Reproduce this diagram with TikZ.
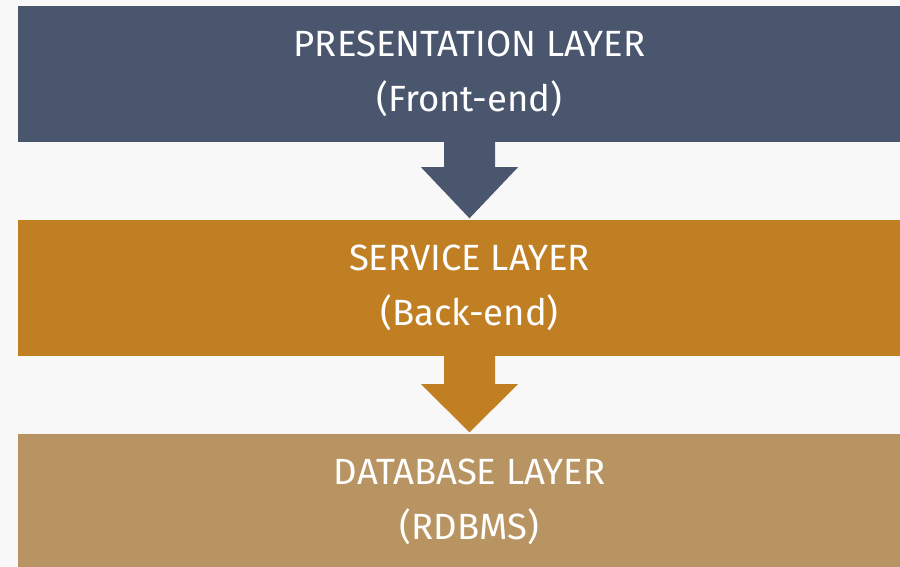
\documentclass[tikz,border=0pt]{standalone}
\usepackage{fontspec}
\setmainfont{Fira Sans}
\usetikzlibrary{calc}
\definecolor{bgc}{HTML}{F8F8F8}
\definecolor{slate}{HTML}{4A566E}
\definecolor{ochre}{HTML}{C17F24}
\definecolor{tan}{HTML}{B89462}
\tikzset{
  layer/.style={fill=#1, draw=none, minimum width=903pt, minimum height=136pt,
    inner sep=0pt, text=white, align=center, font=\fontsize{36.5}{55}\selectfont},
  blockarrow/.style={fill=#1, draw=none}
}
\begin{document}
\begin{tikzpicture}[x=1pt,y=-1pt]
\useasboundingbox (0,0) rectangle (900,567);
\fill[bgc] (0,0) rectangle (900,567);
\begin{scope}
\clip (0,0) rectangle (900,567);
\node[layer=slate] (pres) at (469.5,74) {\raisebox{-2pt}{PRESENTATION LAYER}\\\raisebox{-2pt}{(Front-end)}};
\node[layer=ochre] (serv) at (469.5,288) {\raisebox{-2pt}{SERVICE LAYER}\\\raisebox{-2pt}{(Back-end)}};
\node[layer=tan] (db) at (469.5,502) {\raisebox{-2pt}{DATABASE LAYER}\\\raisebox{-2pt}{(RDBMS)}};
\fill[blockarrow=slate] ($(pres.south)+(-25.5,0)$) -- ($(pres.south)+(25.5,0)$)
  -- ($(pres.south)+(25.5,25)$) -- ($(pres.south)+(48.5,25)$)
  -- ($(serv.north)+(0,-1.5)$) -- ($(pres.south)+(-48.5,25)$)
  -- ($(pres.south)+(-25.5,25)$) -- cycle;
\fill[blockarrow=ochre] ($(serv.south)+(-25.5,0)$) -- ($(serv.south)+(25.5,0)$)
  -- ($(serv.south)+(25.5,28)$) -- ($(serv.south)+(48.5,28)$)
  -- ($(db.north)+(0,-1.5)$) -- ($(serv.south)+(-48.5,28)$)
  -- ($(serv.south)+(-25.5,28)$) -- cycle;
\end{scope}
\end{tikzpicture}
\end{document}
